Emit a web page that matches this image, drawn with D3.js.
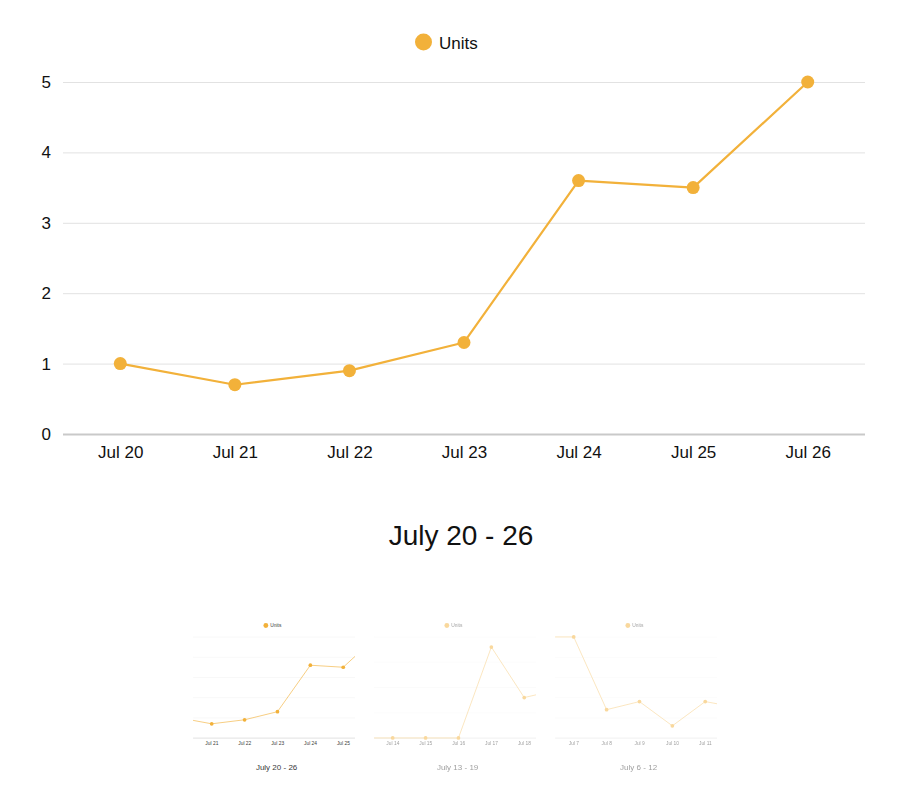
<!DOCTYPE html>
<html><head><meta charset="utf-8">
<script src="https://cdn.jsdelivr.net/npm/d3@7"></script>
<style>body{margin:0;background:#fff} svg{display:block}</style>
</head><body>
<svg id="c" width="914" height="808"></svg>
<script>
const seriesName = "Units";

const week1Title = "July 20 - 26";
const week1Labels = ["Jul 20","Jul 21","Jul 22","Jul 23","Jul 24","Jul 25","Jul 26"];
const week1Values = [1.0, 0.7, 0.9, 1.3, 3.6, 3.5, 5.0];
const week1Ticks = [0,1,2,3,4,5];

const week2Title = "July 13 - 19";
const week2Labels = ["Jul 13","Jul 14","Jul 15","Jul 16","Jul 17","Jul 18","Jul 19"];
const week2Values = [0, 0, 0, 0, 3.6, 1.6, 1.9];
const week2Ticks = [0,1,2,3,4];

const week3Title = "July 6 - 12";
const week3Labels = ["Jul 6","Jul 7","Jul 8","Jul 9","Jul 10","Jul 11","Jul 12"];
const week3Values = [5.0, 5.0, 1.4, 1.8, 0.6, 1.8, 1.5];
const week3Ticks = [0,1,2,3,4,5];

const COLOR = "#F2B13A";
const FONT = "'Liberation Sans', Arial, Helvetica, sans-serif";
const L = 63, R = 865, TOP = 82, BOT = 434;

const svg = d3.select("#c");
const defs = svg.append("defs");

function drawChart(g, labels, values, ticks, title, textColor, gridColor) {
  const x = d3.scalePoint().domain(labels).range([L, R]).padding(0.5);
  const y = d3.scaleLinear().domain([0, d3.max(ticks)]).range([BOT, TOP]);

  const ya = g.append("g").attr("transform", `translate(${L},0)`)
    .call(d3.axisLeft(y).tickValues(ticks).tickSize(-(R - L)).tickPadding(12).tickFormat(d3.format("d")));
  ya.select(".domain").remove();
  ya.selectAll(".tick line").attr("stroke", d => d === 0 ? "#c9c9c9" : gridColor)
    .attr("stroke-width", d => d === 0 ? 2 : 1);
  ya.selectAll(".tick text").attr("font-family", FONT).attr("font-size", 17).attr("fill", textColor);

  const xa = g.append("g").attr("transform", `translate(0,${BOT})`)
    .call(d3.axisBottom(x).tickSize(0).tickPadding(11.5));
  xa.select(".domain").remove();
  xa.selectAll(".tick text").attr("font-family", FONT).attr("font-size", 17).attr("fill", textColor);

  const line = d3.line().x((d, i) => x(labels[i])).y(d => y(d));
  g.append("path").datum(values).attr("d", line)
    .attr("fill", "none").attr("stroke", COLOR).attr("stroke-width", 2.2).attr("stroke-linejoin", "round");
  g.selectAll("circle.pt").data(values).join("circle").attr("class", "pt")
    .attr("cx", (d, i) => x(labels[i])).attr("cy", d => y(d)).attr("r", 6.5).attr("fill", COLOR);

  g.append("circle").attr("cx", 423.5).attr("cy", 42).attr("r", 8.5).attr("fill", COLOR);
  g.append("text").attr("x", 439).attr("y", 48.5).text(seriesName)
    .attr("font-family", FONT).attr("font-size", 17).attr("fill", textColor);

  g.append("text").attr("x", 461).attr("y", 545).attr("text-anchor", "middle").text(title)
    .attr("font-family", FONT).attr("font-size", 28).attr("fill", textColor);
}

drawChart(svg.append("g"), week1Labels, week1Values, week1Ticks, week1Title, "#111", "#e2e2e2");

const thumbs = [
  {labels: week1Labels, values: week1Values, ticks: week1Ticks, title: week1Title, op: 1},
  {labels: week2Labels, values: week2Values, ticks: week2Ticks, title: week2Title, op: 0.5},
  {labels: week3Labels, values: week3Values, ticks: week3Ticks, title: week3Title, op: 0.5}
];
const S = 0.287;
defs.append("clipPath").attr("id", "thumbclip")
  .append("rect").attr("x", 170).attr("y", 0).attr("width", 564).attr("height", 600);

thumbs.forEach((t, k) => {
  const outer = svg.append("g")
    .attr("transform", `translate(${144.3 + k * 181},613.4) scale(${S})`)
    .attr("opacity", t.op);
  const inner = outer.append("g").attr("clip-path", "url(#thumbclip)");
  drawChart(inner, t.labels, t.values, t.ticks, t.title, "#3a3a3a", "#e6e6e6");
});
</script>
</body></html>
